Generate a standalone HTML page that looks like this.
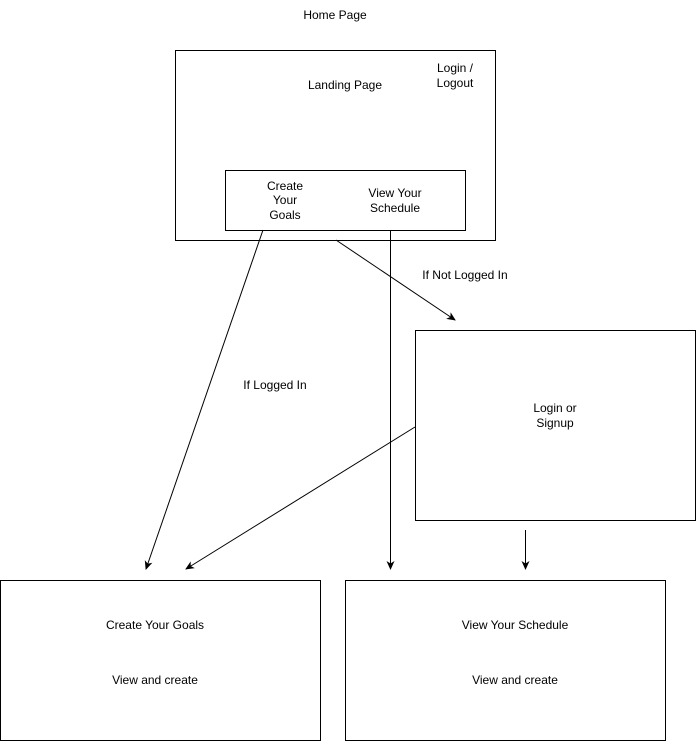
<!DOCTYPE html>
<html><head><style>
body{margin:0;background:#fff}
svg text{font-family:"Liberation Sans",Arial,sans-serif;font-size:12px;fill:#000}
</style></head><body>
<svg width="696" height="741" xmlns="http://www.w3.org/2000/svg">
<defs><marker id="a" markerWidth="10" markerHeight="10" refX="8" refY="4" orient="auto" markerUnits="userSpaceOnUse"><path d="M0,0 L9,4 L0,8 L2.5,4 Z" fill="#000"/></marker></defs>
<g fill="none" stroke="#000" stroke-width="1">
<rect x="175.5" y="50.5" width="320" height="190"/>
<rect x="225.5" y="170.5" width="240" height="60"/>
<rect x="415.5" y="330.5" width="280" height="190"/>
<rect x="0.5" y="580.5" width="320" height="160"/>
<rect x="345.5" y="580.5" width="320" height="160"/>
<line x1="263" y1="230" x2="146" y2="569" marker-end="url(#a)"/>
<line x1="415" y1="427" x2="186" y2="569" marker-end="url(#a)"/>
<line x1="390.5" y1="230" x2="390.5" y2="569" marker-end="url(#a)"/>
<line x1="525.5" y1="530" x2="525.5" y2="569" marker-end="url(#a)"/>
<line x1="336" y1="240" x2="455" y2="320" marker-end="url(#a)"/>
</g>
<g text-anchor="middle">
<text x="335" y="19">Home Page</text>
<text x="345" y="89">Landing Page</text>
<text x="455" y="72">Login /</text>
<text x="455" y="87">Logout</text>
<text x="285" y="190">Create</text>
<text x="285" y="204">Your</text>
<text x="285" y="219">Goals</text>
<text x="395" y="197">View Your</text>
<text x="395" y="212">Schedule</text>
<text x="465" y="279">If Not Logged In</text>
<text x="275" y="389">If Logged In</text>
<text x="555" y="412">Login or</text>
<text x="555" y="427">Signup</text>
<text x="155" y="629">Create Your Goals</text>
<text x="155" y="684">View and create</text>
<text x="515" y="629">View Your Schedule</text>
<text x="515" y="684">View and create</text>
</g>
</svg>
</body></html>
